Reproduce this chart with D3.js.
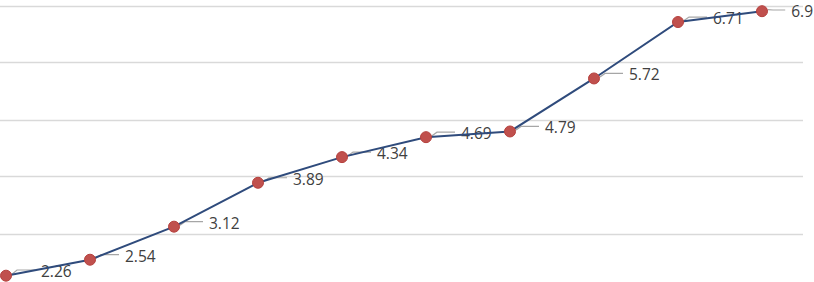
<!DOCTYPE html>
<html>
<head>
<meta charset="utf-8">
<script src="https://cdn.jsdelivr.net/npm/d3@7"></script>
<style>
  html, body { margin: 0; padding: 0; background: #fff; overflow: hidden; }
  svg { display: block; }
</style>
</head>
<body>
<svg id="chart" width="814" height="282"></svg>
<script>
// ---- data ----
const categories = ["1", "2", "3", "4", "5", "6", "7", "8", "9", "10"];
const values = [2.26, 2.54, 3.12, 3.89, 4.34, 4.69, 4.79, 5.72, 6.71, 6.9];
const gridTicks = [3, 4, 5, 6, 7];

// ---- layout ----
const W = 814, H = 282;
const svg = d3.select("#chart");

const x = d3.scalePoint()
  .domain(categories)
  .range([6, 762]);

const y = d3.scaleLinear()
  .domain([2, 7])
  .range([290.5, 5.5]);

// gridlines
svg.append("g")
  .selectAll("line")
  .data(gridTicks)
  .join("line")
  .attr("x1", 0)
  .attr("x2", 803)
  .attr("y1", d => Math.round(y(d)) + 0.5)
  .attr("y2", d => Math.round(y(d)) + 0.5)
  .attr("stroke", "#d9d9d9")
  .attr("stroke-width", 1.3);

const pts = categories.map((c, i) => ({ c, v: values[i], px: x(c), py: y(values[i]) }));

const LDX = 35, LDY = -4;

const leaderG = svg.append("g");
const labelG = svg.append("g");

// labels (positioned first so leaders can follow them)
labelG
  .selectAll("text")
  .data(pts)
  .join("text")
  .attr("font-family", "'Open Sans', 'Liberation Sans', sans-serif")
  .attr("font-size", "15.5px")
  .attr("fill", "#404040")
  .attr("dominant-baseline", "central")
  .text(d => d.v)
  .each(function (d) {
    const sel = d3.select(this);
    const w = this.getComputedTextLength();
    d.lx = Math.min(d.px + LDX, W - w - 1);
    d.ly = d.py + LDY;
    sel.attr("x", d.lx).attr("y", d.ly);
    const bb = this.getBBox();
    if (bb.y < 0) { d.ly += -bb.y; sel.attr("y", d.ly); }
    if (bb.y + bb.height > H) { d.ly -= (bb.y + bb.height - H); sel.attr("y", d.ly); }
  });

// leader lines
leaderG
  .selectAll("path")
  .data(pts)
  .join("path")
  .attr("d", d => {
    const x0 = d.px + 6, y0 = d.py - 1.5;
    const x1 = d.lx - 6, y1 = d.ly - 1;
    return `M${x0},${y0} L${x0 + 5},${y1} L${x1},${y1}`;
  })
  .attr("fill", "none")
  .attr("stroke", "#a6a6a6")
  .attr("stroke-width", 1.2);

// line
const line = d3.line()
  .x(d => d.px)
  .y(d => d.py)
  .curve(d3.curveLinear);

svg.append("path")
  .datum(pts)
  .attr("d", line)
  .attr("fill", "none")
  .attr("stroke", "#2f4b7c")
  .attr("stroke-width", 2);

// markers
svg.append("g")
  .selectAll("circle")
  .data(pts)
  .join("circle")
  .attr("cx", d => d.px)
  .attr("cy", d => d.py)
  .attr("r", 5.5)
  .attr("fill", "#c0504d")
  .attr("stroke", "#b5403d")
  .attr("stroke-width", 1);
</script>
</body>
</html>
